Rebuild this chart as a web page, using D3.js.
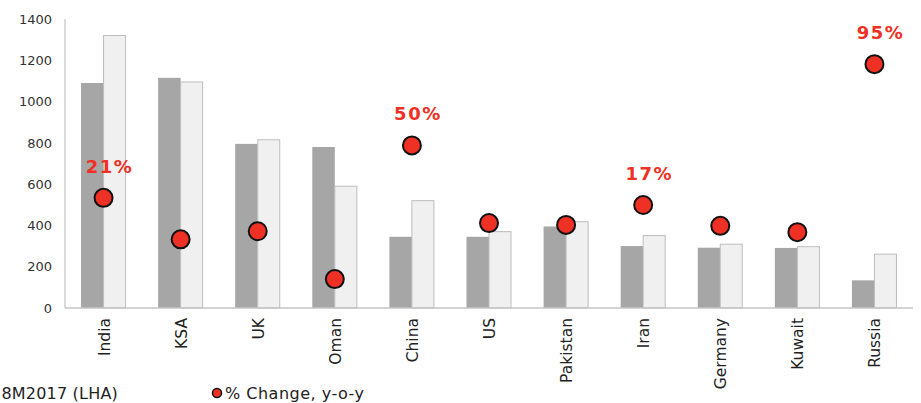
<!DOCTYPE html>
<html>
<head>
<meta charset="utf-8">
<script src="https://cdn.jsdelivr.net/npm/d3@7/dist/d3.min.js"></script>
<style>
  html, body { margin: 0; padding: 0; background: #ffffff; }
  svg { display: block; }
  text { font-family: "DejaVu Sans", Verdana, sans-serif; }
</style>
</head>
<body>
<svg id="chart" width="921" height="403"></svg>
<script>
// Arrivals by source market, two periods, with year-on-year change
const categories = ["India", "KSA", "UK", "Oman", "China", "US", "Pakistan", "Iran", "Germany", "Kuwait", "Russia"];
const series2016 = [1090, 1115, 795, 780, 345, 345, 395, 300, 292, 291, 134];
const series2017 = [1320, 1095, 815, 590, 520, 370, 418, 351, 309, 297, 261];
const pctChange = [21, -2, 2.5, -24, 50, 7, 6, 17, 5.5, 2, 95];
const labelled = ["India", "China", "Iran", "Russia"];
const yTicks = [0, 200, 400, 600, 800, 1000, 1200, 1400];
const legendNames = ["8M2017 (LHA)", "% Change, y-o-y"];

const svg = d3.select("#chart");
const plotL = 65, plotR = 913, plotT = 19, plotB = 308;

const x = d3.scaleBand().domain(categories).range([plotL, plotR])
  .paddingInner(0.416).paddingOuter(0.208);
const xs = d3.scaleBand().domain(["a", "b"]).range([0, x.bandwidth()]);
const y = d3.scaleLinear().domain([0, 1400]).range([plotB, plotT]);
const y2 = d3.scaleLinear().domain([-40, 120]).range([plotB, plotT]);

const colDark = "#a6a6a6", colLight = "#f0f0f0", colRed = "#ee3124";

// bars
const groups = svg.append("g").selectAll("g").data(categories).join("g")
  .attr("transform", d => `translate(${x(d)},0)`);
groups.append("rect")
  .attr("x", xs("a")).attr("width", xs.bandwidth())
  .attr("y", (d, i) => y(series2016[i]))
  .attr("height", (d, i) => y(0) - y(series2016[i]))
  .attr("fill", colDark);
groups.append("rect")
  .attr("x", xs("b")).attr("width", xs.bandwidth() - 0.5)
  .attr("y", (d, i) => y(series2017[i]))
  .attr("height", (d, i) => y(0) - y(series2017[i]))
  .attr("fill", colLight).attr("stroke", "#bdbdbd").attr("stroke-width", 1);

// axes lines
svg.append("line").attr("x1", plotL).attr("x2", plotL).attr("y1", plotT).attr("y2", plotB)
  .attr("stroke", "#c4c4c4").attr("stroke-width", 1.2);
svg.append("line").attr("x1", plotL).attr("x2", plotR).attr("y1", plotB).attr("y2", plotB)
  .attr("stroke", "#c4c4c4").attr("stroke-width", 1.5);

// y tick labels
const yAxis = d3.axisLeft(y).tickValues(yTicks).tickFormat(d3.format("d"))
  .tickSize(0).tickPadding(13);
const yg = svg.append("g").attr("transform", `translate(${plotL},0)`).call(yAxis);
yg.select(".domain").remove();
yg.selectAll("text").attr("font-size", 13).attr("fill", "#333333")
  .style("font-family", "'DejaVu Sans', Verdana, sans-serif");

// category labels
svg.append("g").selectAll("text").data(categories).join("text")
  .attr("transform", d => `translate(${x(d) + x.bandwidth() / 2 + 1},${plotB + 10}) rotate(-90)`)
  .attr("text-anchor", "end").attr("dominant-baseline", "central")
  .attr("font-size", 15.5).attr("fill", "#222222")
  .text(d => d);

// change markers
const cx = d => x(d) + x.bandwidth() / 2;
svg.append("g").selectAll("circle").data(categories).join("circle")
  .attr("cx", cx).attr("cy", (d, i) => y2(pctChange[i])).attr("r", 9)
  .attr("fill", colRed).attr("stroke", "#111111").attr("stroke-width", 2);

svg.append("g").selectAll("text").data(categories.filter(c => labelled.includes(c))).join("text")
  .attr("x", d => cx(d) + 6)
  .attr("y", d => y2(pctChange[categories.indexOf(d)]) - 25)
  .attr("text-anchor", "middle").attr("font-size", 18).attr("font-weight", "bold")
  .attr("letter-spacing", 1.5).attr("fill", colRed)
  .text(d => pctChange[categories.indexOf(d)] + "%");

// legend
const lg = svg.append("g").attr("font-size", 16).attr("fill", "#222222");
lg.append("text").attr("x", 118).attr("y", 399).attr("text-anchor", "end")
  .attr("letter-spacing", 0.2).text(legendNames[0]);
lg.append("circle").attr("cx", 217).attr("cy", 393).attr("r", 4.5)
  .attr("fill", colRed).attr("stroke", "#111111").attr("stroke-width", 1.5);
lg.append("text").attr("x", 225).attr("y", 399)
  .attr("letter-spacing", 0.5).text(legendNames[1]);
</script>
</body>
</html>
